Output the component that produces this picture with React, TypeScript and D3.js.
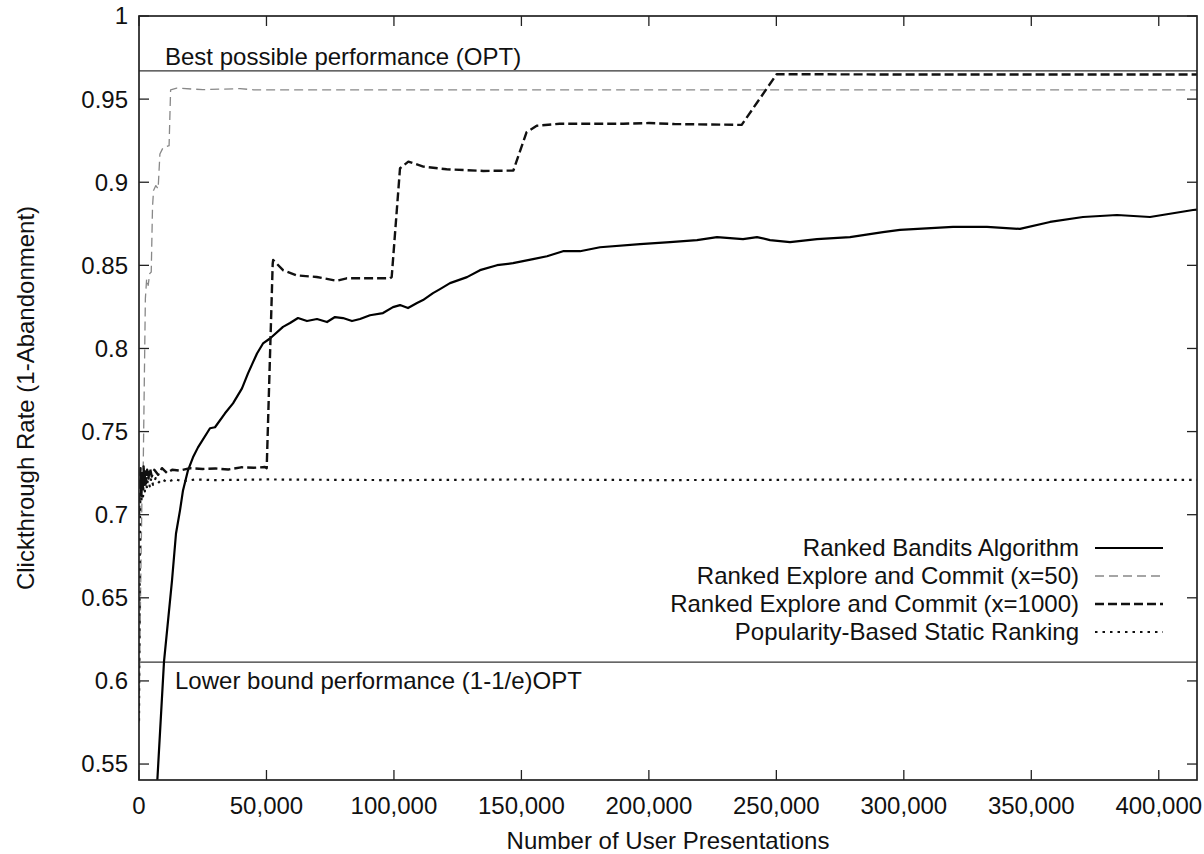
import React, { useEffect, useRef } from 'react';
import * as d3 from 'd3';

// values
const xTicks = [0, 50000, 100000, 150000, 200000, 250000, 300000, 350000, 400000];
const yTicks = [0.55, 0.6, 0.65, 0.7, 0.75, 0.8, 0.85, 0.9, 0.95, 1];
const optValue = 0.967;
const lowerValue = 0.6113;

const seriesNames = [
  'Ranked Bandits Algorithm',
  'Ranked Explore and Commit (x=50)',
  'Ranked Explore and Commit (x=1000)',
  'Popularity-Based Static Ranking',
];

const rankedBandits: [number, number][] = [
  [7000, 0.535], [9806, 0.6116], [12944, 0.6604], [14513, 0.6887], [16082, 0.7026],
  [17259, 0.7146], [19220, 0.7267], [21182, 0.7345], [23143, 0.7405], [27850, 0.752],
  [29811, 0.7526], [33733, 0.761], [36871, 0.767], [40401, 0.776], [42755, 0.785],
  [46285, 0.797], [48639, 0.803], [51385, 0.806], [56484, 0.813], [59230, 0.8153],
  [62368, 0.8183], [65898, 0.8165], [69821, 0.8177], [73743, 0.8159], [76881, 0.8189],
  [80019, 0.8183], [83549, 0.8165], [86687, 0.8177], [90610, 0.82], [95709, 0.8213],
  [99632, 0.8249], [102377, 0.8261], [105515, 0.8243], [109046, 0.8273], [111399, 0.8291],
  [115322, 0.8333], [118067, 0.8357], [121990, 0.8393], [128658, 0.8429], [133757, 0.8471],
  [140426, 0.8501], [146702, 0.8513], [154547, 0.8537], [160038, 0.8555], [166314, 0.8585],
  [172982, 0.8585], [180827, 0.8609], [196517, 0.8628], [208285, 0.864], [218870, 0.8652],
  [226716, 0.867], [236914, 0.8658], [242406, 0.867], [247505, 0.8652], [255350, 0.864],
  [265940, 0.8658], [278884, 0.867], [291828, 0.87], [298497, 0.8713], [319292, 0.8731],
  [332628, 0.8731], [345572, 0.8719], [357340, 0.8761], [370284, 0.8791], [383620, 0.8803],
  [396565, 0.8791], [413432, 0.8833], [415000, 0.8835],
];

const exploreCommit50: [number, number][] = [
  [0, 0.575], [600, 0.65], [1200, 0.715], [1600, 0.722], [2000, 0.77], [2500, 0.83],
  [3000, 0.842], [3600, 0.838], [4200, 0.845], [4800, 0.846], [5300, 0.885], [5700, 0.895],
  [6600, 0.898], [7500, 0.896], [8200, 0.917], [9500, 0.921], [11800, 0.922], [12400, 0.9556],
  [14800, 0.9566], [25000, 0.9557], [39600, 0.9563], [45000, 0.9556], [100000, 0.9555],
  [200000, 0.9556], [300000, 0.9555], [415000, 0.9555],
];

const exploreCommit1000: [number, number][] = [
  [0, 0.7], [300, 0.715], [600, 0.728], [900, 0.712], [1200, 0.725], [1500, 0.716],
  [1800, 0.729], [2100, 0.718], [2400, 0.726], [2800, 0.719], [3200, 0.727], [3700, 0.722],
  [4300, 0.728], [5000, 0.723], [6000, 0.727], [7500, 0.724], [9000, 0.728], [11000, 0.725],
  [13000, 0.727], [16000, 0.7265], [20000, 0.728], [25000, 0.7275], [30000, 0.7278],
  [35000, 0.7272], [40000, 0.7285], [45000, 0.7282], [49400, 0.7287], [50090, 0.728],
  [52444, 0.851], [52640, 0.8532], [56600, 0.847], [61860, 0.844], [69700, 0.843],
  [77550, 0.8407], [81470, 0.8422], [98470, 0.8422], [99120, 0.843], [102380, 0.9084],
  [105640, 0.9124], [111520, 0.9094], [120690, 0.9078], [135070, 0.9068], [146840, 0.907],
  [152000, 0.93], [156000, 0.934], [165000, 0.9352], [190000, 0.9352], [200000, 0.9356],
  [210000, 0.935], [236400, 0.9345], [250130, 0.965], [300000, 0.9648], [415000, 0.9648],
];

const popularity: [number, number][] = [
  [0, 0.576], [400, 0.7], [700, 0.722], [1000, 0.708], [1300, 0.72], [1600, 0.711],
  [1900, 0.724], [2300, 0.714], [2700, 0.722], [3100, 0.716], [3600, 0.723], [4200, 0.717],
  [4800, 0.722], [5500, 0.718], [6500, 0.722], [7500, 0.719], [9000, 0.7215], [11000, 0.7195],
  [14000, 0.7215], [17000, 0.72], [22000, 0.7212], [30000, 0.7208], [50000, 0.7212],
  [100000, 0.7208], [150000, 0.7212], [200000, 0.7208], [250000, 0.721], [300000, 0.7212],
  [350000, 0.721], [415000, 0.721],
];

const styles = [
  { color: '#000', width: 2.2, dash: null },
  { color: '#888', width: 1.3, dash: '9,5' },
  { color: '#111', width: 2.4, dash: '9,4' },
  { color: '#111', width: 2.2, dash: '2.5,5' },
];

const App = () => {
  const svgRef = useRef<SVGSVGElement>(null);

  useEffect(() => {
    const W = 1204, H = 854;
    const margin = { top: 16, right: 7, bottom: 74, left: 139 };
    const font = '"Liberation Sans", Arial, Helvetica, sans-serif';

    const svg = d3.select(svgRef.current).attr('width', W).attr('height', H);
    svg.selectAll('*').remove();

    const x = d3.scaleLinear().domain([0, 415000]).range([margin.left, W - margin.right]);
    const y = d3.scaleLinear().domain([0.5404, 1]).range([H - margin.bottom, margin.top]);
    const [x0, x1] = x.range();
    const [y0, y1] = y.range();

    svg.append('clipPath').attr('id', 'plot-clip')
      .append('rect').attr('x', x0).attr('y', y1).attr('width', x1 - x0).attr('height', y0 - y1);

    // reference lines
    [optValue, lowerValue].forEach(v => {
      svg.append('line')
        .attr('x1', x0).attr('x2', x1).attr('y1', y(v)).attr('y2', y(v))
        .attr('stroke', '#333').attr('stroke-width', 1.1);
    });
    svg.append('text').attr('x', 165).attr('y', y(optValue) - 6)
      .attr('font-family', font).attr('font-size', 24).attr('fill', '#111')
      .text('Best possible performance (OPT)');
    svg.append('text').attr('x', 175).attr('y', y(lowerValue) + 27)
      .attr('font-family', font).attr('font-size', 24).attr('fill', '#111')
      .text('Lower bound performance (1-1/e)OPT');

    const line = d3.line<[number, number]>().x(d => x(d[0])).y(d => y(d[1]));
    const allSeries = [rankedBandits, exploreCommit50, exploreCommit1000, popularity];
    const plot = svg.append('g').attr('clip-path', 'url(#plot-clip)');
    allSeries.forEach((s, i) => {
      plot.append('path')
        .attr('d', line(s))
        .attr('fill', 'none')
        .attr('stroke', styles[i].color)
        .attr('stroke-width', styles[i].width)
        .attr('stroke-dasharray', styles[i].dash)
        .attr('stroke-linejoin', 'round');
    });

    // ticks, mirrored on all sides
    const tickLen = 10;
    xTicks.forEach(t => {
      svg.append('line').attr('x1', x(t)).attr('x2', x(t)).attr('y1', y0).attr('y2', y0 - tickLen)
        .attr('stroke', '#222').attr('stroke-width', 1.3);
      svg.append('line').attr('x1', x(t)).attr('x2', x(t)).attr('y1', y1).attr('y2', y1 + tickLen)
        .attr('stroke', '#222').attr('stroke-width', 1.3);
      svg.append('text').attr('x', x(t)).attr('y', y0 + 34)
        .attr('text-anchor', 'middle').attr('font-family', font).attr('font-size', 24).attr('fill', '#111')
        .text(d3.format(',')(t));
    });
    yTicks.forEach(t => {
      svg.append('line').attr('x1', x0).attr('x2', x0 + tickLen).attr('y1', y(t)).attr('y2', y(t))
        .attr('stroke', '#222').attr('stroke-width', 1.3);
      svg.append('line').attr('x1', x1).attr('x2', x1 - tickLen).attr('y1', y(t)).attr('y2', y(t))
        .attr('stroke', '#222').attr('stroke-width', 1.3);
      svg.append('text').attr('x', x0 - 11).attr('y', y(t)).attr('dy', '0.35em')
        .attr('text-anchor', 'end').attr('font-family', font).attr('font-size', 24).attr('fill', '#111')
        .text(String(t));
    });

    // frame
    svg.append('rect').attr('x', x0).attr('y', y1).attr('width', x1 - x0).attr('height', y0 - y1)
      .attr('fill', 'none').attr('stroke', '#222').attr('stroke-width', 1.7);

    // axis titles
    svg.append('text').attr('x', (x0 + x1) / 2).attr('y', 849)
      .attr('text-anchor', 'middle').attr('font-family', font).attr('font-size', 24).attr('fill', '#111')
      .text('Number of User Presentations');
    svg.append('text').attr('transform', `translate(34, ${(y0 + y1) / 2}) rotate(-90)`)
      .attr('text-anchor', 'middle').attr('font-family', font).attr('font-size', 24).attr('fill', '#111')
      .text('Clickthrough Rate (1-Abandonment)');

    // legend
    const legendRight = 1079;
    const legendTop = 548;
    const rowH = 28;
    seriesNames.forEach((name, i) => {
      const ly = legendTop + i * rowH;
      svg.append('text').attr('x', legendRight).attr('y', ly).attr('dy', '0.35em')
        .attr('text-anchor', 'end').attr('font-family', font).attr('font-size', 24).attr('fill', '#111')
        .text(name);
      svg.append('line').attr('x1', 1095).attr('x2', 1163).attr('y1', ly).attr('y2', ly)
        .attr('stroke', styles[i].color).attr('stroke-width', styles[i].width)
        .attr('stroke-dasharray', styles[i].dash);
    });
  }, []);

  return <svg ref={svgRef} style={{ position: 'absolute', left: 0, top: 0, background: '#fff' }} />;
};

export default App;
